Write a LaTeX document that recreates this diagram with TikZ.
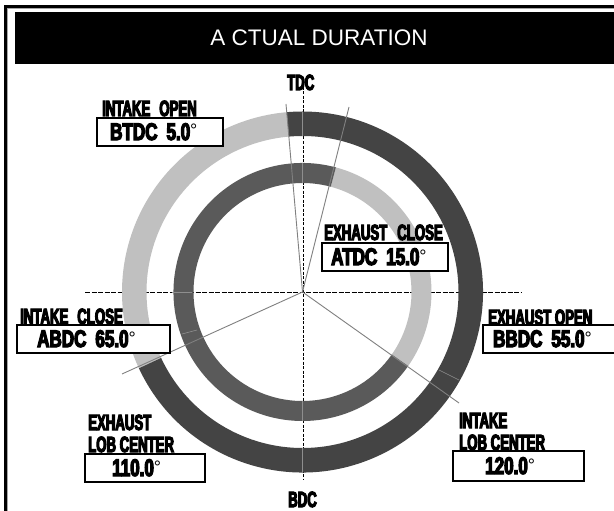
\documentclass[tikz,border=0pt]{standalone}
\usepackage{fontspec}
\setmainfont{Liberation Sans}
\newfontfamily\imp[FakeStretch=0.6,FakeBold=5]{Liberation Sans Bold}
\newfontfamily\impv[FakeStretch=0.71,FakeBold=5]{Liberation Sans Bold}
\definecolor{ringdark}{HTML}{444444}
\definecolor{ringmid}{HTML}{5A5A5A}
\definecolor{ringlight}{HTML}{C0C0C0}
\definecolor{ray}{HTML}{808080}
\newcommand{\degmark}{\raisebox{3pt}{\rmfamily\fontsize{18}{18}\selectfont °}}
\tikzset{
  lab/.style={inner sep=0pt,anchor=base west,font=\imp\fontsize{22}{22}\selectfont},
  val/.style={inner sep=0pt,anchor=base west,font=\impv\fontsize{24}{24}\selectfont},
  valbox/.style={draw=black,line width=1.8pt,fill=white},
  rayline/.style={draw=ray,line width=0.9pt},
  faint/.style={draw=ringlight!60!ringdark,line width=0.6pt},
  axish/.style={draw=black,line width=0.8pt,dash pattern=on 5pt off 1.5pt},
  axisv/.style={draw=black,line width=1.1pt,dash pattern=on 3pt off 1.5pt},
}
\begin{document}
\begin{tikzpicture}[x=1pt,y=-1pt]
\useasboundingbox (0,0) rectangle (614,511);
\fill[white] (0,0) rectangle (614,511);
% frame
\draw[black,line width=2.4pt] (5.5,511) -- (5.5,6.5) -- (614,6.5);
\draw[gray!70,line width=0.6pt] (7.5,511) -- (7.5,8.5) -- (614,8.5);
% title
\fill[black] (15,12) rectangle (614,64);
\node[text=white,inner sep=0pt,font=\fontsize{22.5}{22.5}\selectfont] (title) at (319,37.5) {A CTUAL DURATION};
% axes
\coordinate (c) at (302.5,292);
\coordinate (axL) at (85,292); \coordinate (axR) at (522,292);
\coordinate (axT) at (303.5,78); \coordinate (axB) at (303.5,480);
\draw[axish] (axL) -- (axR);
\draw[axisv] (axT) -- (axB);
% rings
\def\ringseg#1#2#3#4#5{\fill[#1] ([shift={(#4:#2pt)}]c) arc[start angle=#4,end angle=#5,radius=#2pt] -- ([shift={(#5:#3pt)}]c) arc[start angle=#5,end angle=#4,radius=#3pt] -- cycle;}
\ringseg{ringlight}{180.5}{156}{95}{205}
\ringseg{ringdark}{180.5}{156}{-155}{95}
\ringseg{ringlight}{129}{109}{-35}{75}
\ringseg{ringmid}{129}{109}{75}{325}
% rays
\coordinate (rA) at (286,104); \coordinate (rB) at (349,107);
\coordinate (rC) at (122,374); \coordinate (rD) at (459,403);
\draw[rayline] (c) -- (rA); \draw[rayline] (c) -- (rB);
\draw[rayline] (c) -- (rC); \draw[rayline] (c) -- (rD);
% faint marks on the rings
\coordinate (fA) at (182,334); \coordinate (fB) at (197,330);
\coordinate (fC) at (439,370); \coordinate (fD) at (459,380);
\coordinate (fE) at (172,292); \coordinate (fF) at (192,292);
\coordinate (fG) at (302.5,111.5); \coordinate (fH) at (302.5,136);
\coordinate (fI) at (302.5,163); \coordinate (fJ) at (302.5,183);
\coordinate (fK) at (302.5,401); \coordinate (fL) at (302.5,421);
\coordinate (fM) at (302.5,448); \coordinate (fN) at (302.5,472.5);
\draw[faint] (fA) -- (fB); \draw[faint] (fC) -- (fD); \draw[faint] (fE) -- (fF);
\draw[faint] (fG) -- (fH); \draw[faint] (fI) -- (fJ);
\draw[faint] (fK) -- (fL); \draw[faint] (fM) -- (fN);
% axis labels
\node[lab] (tdc) at (287,90) {TDC};
\node[lab] (bdc) at (288,507) {BDC};
% boxes
\node[valbox,minimum width=126pt,minimum height=28pt,inner sep=0pt] (bIO) at (160,132) {};
\node[valbox,minimum width=126pt,minimum height=28pt,inner sep=0pt] (bEC) at (385,257) {};
\node[valbox,minimum width=153pt,minimum height=28pt,inner sep=0pt] (bIC) at (93.5,339) {};
\node[valbox,minimum width=132pt,minimum height=28pt,inner sep=0pt] (bEO) at (549,339) {};
\node[valbox,minimum width=120pt,minimum height=28pt,inner sep=0pt] (bEL) at (145,468) {};
\node[valbox,minimum width=131pt,minimum height=30pt,inner sep=0pt] (bIL) at (518.5,466) {};
% labels
\node[lab] (tIO) at (102,116) {INTAKE\hspace{9pt}OPEN};
\node[val] (vIO) at (110,140) {BTDC\hspace{9pt}5.0\degmark};
\node[lab] (tEC) at (324,240) {EXHAUST\hspace{10pt}CLOSE};
\node[val] (vEC) at (331,265) {ATDC\hspace{9pt}15.0\degmark};
\node[lab] (tIC) at (20,324) {INTAKE\hspace{9pt}CLOSE};
\node[val] (vIC) at (37,347) {ABDC\hspace{9pt}65.0\degmark};
\node[lab] (tEO) at (488,325) {EXHAUST OPEN};
\node[val] (vEO) at (493,347) {BBDC\hspace{9pt}55.0\degmark};
\node[lab] (tEL1) at (88,430) {EXHAUST};
\node[lab] (tEL2) at (88,452) {LOB CENTER};
\node[val] (vEL) at (112,476) {110.0\degmark};
\node[lab] (tIL1) at (459,428) {INTAKE};
\node[lab] (tIL2) at (459,450) {LOB CENTER};
\node[val] (vIL) at (485,474) {120.0\degmark};
\end{tikzpicture}
\end{document}
